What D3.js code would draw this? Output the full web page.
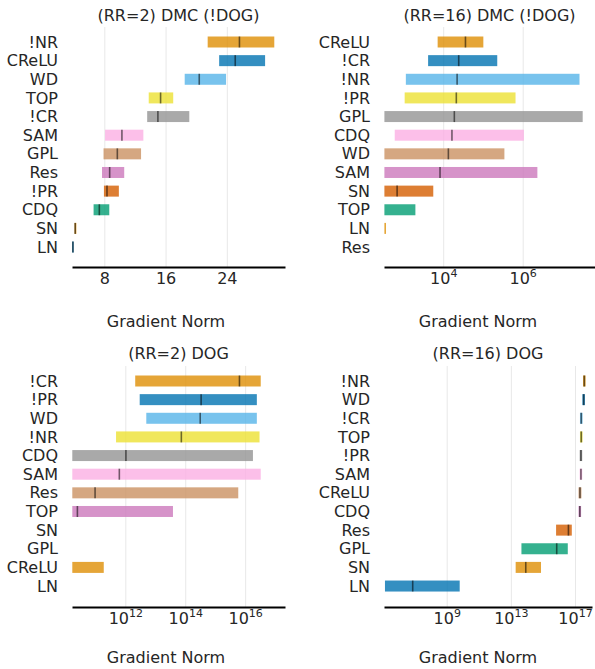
<!DOCTYPE html>
<html lang="en">
<head>
<meta charset="utf-8">
<title>Gradient Norm ranges</title>
<script src="https://d3js.org/d3.v7.min.js"></script>
<style>
  body { margin: 0; background: #fff; }
  svg text { font-family: "DejaVu Sans", sans-serif; fill: #262626; }
  .grid line { stroke: #e8e8e8; stroke-width: 1; }
  .grid path { display: none; }
</style>
</head>
<body>
<script>
// seaborn "colorblind" palette, used from the bottom row up
const palette = ["#0173b2", "#de8f05", "#029e73", "#d55e00", "#cc78bc",
                 "#ca9161", "#fbafe4", "#949494", "#ece133", "#56b4e9"];

// (RR=2) DMC (!DOG) - linear
const p1Labels = ["!NR", "CReLU", "WD", "TOP", "!CR", "SAM", "GPL", "Res", "!PR", "CDQ", "SN", "LN"];
const p1Lo  = [21.5, 23.0, 18.5, 13.8, 13.6, 8.1, 7.9, 7.7, 7.95, 6.6, 4.1, 3.8];
const p1Hi  = [30.2, 29.0, 23.9, 17.0, 19.1, 13.1, 12.8, 10.6, 9.9, 8.65, 4.35, 4.0];
const p1Med = [25.65, 25.1, 20.4, 15.35, 15.0, 10.3, 9.7, 8.7, 8.35, 7.35, 4.2, 3.9];
const p1Ticks = [8, 16, 24];

// (RR=16) DMC (!DOG) - log10 of the norm
const p2Labels = ["CReLU", "!CR", "!NR", "!PR", "GPL", "CDQ", "WD", "SAM", "SN", "TOP", "LN", "Res"];
const p2Lo  = [3.86, 3.62, 3.06, 3.03, 2.52, 2.78, 2.52, 2.52, 2.52, 2.52, 2.52, null];
const p2Hi  = [5.01, 5.36, 7.43, 5.82, 7.51, 6.03, 5.54, 6.37, 3.75, 3.30, 2.56, null];
const p2Med = [4.56, 4.39, 4.35, 4.33, 4.28, 4.22, 4.13, 3.92, 2.84, null, null, null];
const p2Ticks = [4, 6];

// (RR=2) DOG - log10 of the norm
const p3Labels = ["!CR", "!PR", "WD", "!NR", "CDQ", "SAM", "Res", "TOP", "SN", "GPL", "CReLU", "LN"];
const p3Lo  = [12.33, 12.48, 12.70, 11.69, 10.23, 10.23, 10.23, 10.23, null, null, 10.23, null];
const p3Hi  = [16.52, 16.39, 16.39, 16.48, 16.26, 16.52, 15.77, 13.59, null, null, 11.28, null];
const p3Med = [15.81, 14.53, 14.50, 13.87, 12.02, 11.80, 10.99, 10.40, null, null, null, null];
const p3Ticks = [12, 14, 16];

// (RR=16) DOG - log10 of the norm
const p4Labels = ["!NR", "WD", "!CR", "TOP", "!PR", "SAM", "CReLU", "CDQ", "Res", "GPL", "SN", "LN"];
const p4Lo  = [17.50, 17.46, 17.31, 17.31, 17.29, 17.29, 17.22, 17.22, 15.82, 13.66, 13.30, 5.15];
const p4Hi  = [17.66, 17.62, 17.47, 17.47, 17.45, 17.45, 17.40, 17.38, 16.80, 16.55, 14.88, 9.81];
const p4Med = [17.58, 17.54, 17.39, 17.39, 17.37, 17.37, 17.31, 17.30, 16.59, 15.86, 13.93, 6.88];
const p4Ticks = [9, 13, 17];

const w = 595;
const h = 669;

const svg = d3.select("body").append("svg")
    .attr("width", w)
    .attr("height", h);

const panels = [
  { title: "(RR=2) DMC (!DOG)", labels: p1Labels, lo: p1Lo, hi: p1Hi, med: p1Med, ticks: p1Ticks,
    log: false, domain: [3.78, 31.6], x0: 72, x1: 285, top: 42, axisY: 267, titleY: 21, xlabX: 166, xlabY: 327 },
  { title: "(RR=16) DMC (!DOG)", labels: p2Labels, lo: p2Lo, hi: p2Hi, med: p2Med, ticks: p2Ticks,
    log: true, domain: [2.51, 7.82], x0: 384, x1: 595, top: 42, axisY: 267, titleY: 21, xlabX: 478, xlabY: 327 },
  { title: "(RR=2) DOG", labels: p3Labels, lo: p3Lo, hi: p3Hi, med: p3Med, ticks: p3Ticks,
    log: true, domain: [10.22, 17.33], x0: 72, x1: 285, top: 381, axisY: 607, titleY: 359, xlabX: 166, xlabY: 663 },
  { title: "(RR=16) DOG", labels: p4Labels, lo: p4Lo, hi: p4Hi, med: p4Med, ticks: p4Ticks,
    log: true, domain: [5.09, 18.06], x0: 384, x1: 592, top: 381, axisY: 607, titleY: 359, xlabX: 478, xlabY: 663 }
];

const rowStep = 18.64;
const barH = 11;
const fs = "16px";

panels.forEach(function (p) {
  const g = svg.append("g");
  const n = p.labels.length;

  // log panels keep exponents in the arrays; the scale works on real values
  const val = (e) => p.log ? Math.pow(10, e) : e;
  const x = (p.log ? d3.scaleLog() : d3.scaleLinear())
      .domain(p.domain.map(val))
      .range([p.x0, p.x1]);

  const y = d3.scalePoint()
      .domain(p.labels)
      .range([p.top, p.top + rowStep * (n - 1)]);

  const gridTop = p.top - 15;

  // vertical grid
  g.append("g")
    .attr("class", "grid")
    .attr("transform", "translate(0," + p.axisY + ")")
    .call(d3.axisBottom(x).tickValues(p.ticks.map(val)).tickSize(-(p.axisY - gridTop)).tickFormat(""));

  const rows = p.labels.map((lab, i) => ({
    lab: lab, lo: p.lo[i], hi: p.hi[i], med: p.med[i], color: palette[(n - 1 - i) % 10]
  }));

  g.selectAll("rect.bar")
    .data(rows.filter(d => d.lo !== null))
    .enter().append("rect")
    .attr("class", "bar")
    .attr("x", d => x(val(d.lo)))
    .attr("y", d => y(d.lab) - barH / 2)
    .attr("width", d => Math.max(1.5, x(val(d.hi)) - x(val(d.lo))))
    .attr("height", barH)
    .attr("fill", d => d.color)
    .attr("fill-opacity", 0.8);

  g.selectAll("line.med")
    .data(rows.filter(d => d.med !== null))
    .enter().append("line")
    .attr("class", "med")
    .attr("x1", d => x(val(d.med)))
    .attr("x2", d => x(val(d.med)))
    .attr("y1", d => y(d.lab) - barH / 2)
    .attr("y2", d => y(d.lab) + barH / 2)
    .attr("stroke", "#000")
    .attr("stroke-opacity", 0.55)
    .attr("stroke-width", 1.6);

  // category labels
  g.append("g")
    .attr("transform", "translate(" + (p.x0 - 14) + ",0)")
    .call(d3.axisLeft(y).tickSize(0).tickPadding(0))
    .call(a => a.select(".domain").remove())
    .selectAll("text")
    .style("font-size", fs)
    .attr("fill", "#262626");

  // x axis
  const ax = g.append("g")
    .attr("transform", "translate(0," + p.axisY + ")")
    .call(d3.axisBottom(x).tickValues(p.ticks.map(val)).tickSize(0).tickSizeOuter(0).tickPadding(6)
      .tickFormat(""));
  ax.select(".domain").attr("stroke", "#000").attr("stroke-width", 2.2);
  ax.selectAll(".tick").each(function (t, i) {
    const txt = d3.select(this).append("text")
      .attr("y", 17)
      .attr("text-anchor", "middle")
      .style("font-size", fs)
      .attr("fill", "#262626");
    if (p.log) {
      txt.append("tspan").text("10");
      txt.append("tspan").attr("dy", -7).style("font-size", "11px").text(p.ticks[i]);
    } else {
      txt.text(p.ticks[i]);
    }
  });

  g.append("text")
    .attr("x", (p.x0 + p.x1) / 2)
    .attr("y", p.titleY)
    .attr("text-anchor", "middle")
    .style("font-size", fs)
    .text(p.title);

  g.append("text")
    .attr("x", p.xlabX)
    .attr("y", p.xlabY)
    .attr("text-anchor", "middle")
    .style("font-size", fs)
    .text("Gradient Norm");
});
</script>
</body>
</html>
